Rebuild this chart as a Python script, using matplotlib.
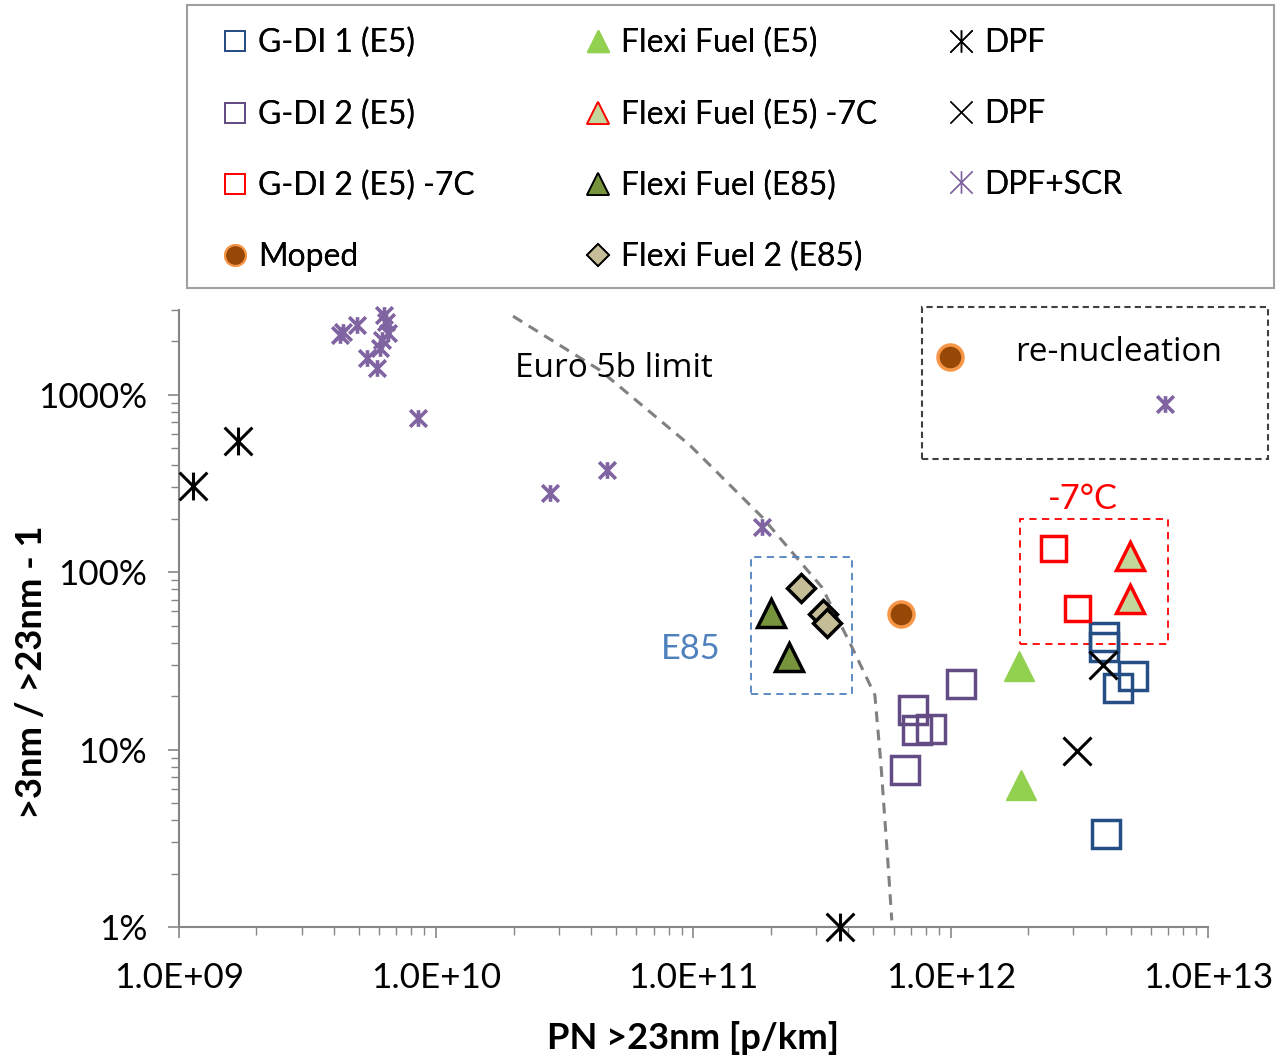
import matplotlib
matplotlib.use('Agg')
import matplotlib.pyplot as plt
from matplotlib import font_manager
from matplotlib.path import Path
from matplotlib.patches import Rectangle
from matplotlib.lines import Line2D
from matplotlib.ticker import FuncFormatter, NullFormatter

# pick a narrow font (Calibri-like look), fall back to Lato
names = {f.name for f in font_manager.fontManager.ttflist}
if 'Liberation Sans Narrow' in names:
    NARROW, K = 'Liberation Sans Narrow', 1.12
else:
    NARROW, K = 'Lato', 0.9
WIDE = 'Open Sans'
plt.rcParams['font.family'] = NARROW

# ---- data: PN >23nm [p/km] vs (>3nm / >23nm - 1) in %
gdi1_x = [3.94e12, 3.94e12, 5.1e12, 4.46e12, 4.0e12]
gdi1_y = [43, 37.8, 25.9, 22.2, 3.34]
gdi2_x = [1.10e12, 7.13e11, 7.38e11, 8.37e11, 6.64e11]
gdi2_y = [23.4, 16.7, 12.9, 13.0, 7.67]
gdi2c_x = [2.50e12, 3.09e12]
gdi2c_y = [136, 63]
moped_x = [6.4e11]
moped_y = [58]
ff_x = [1.84e12, 1.87e12]
ff_y = [29.5, 6.3]
ffc_x = [4.97e12, 4.97e12]
ffc_y = [123, 71]
ff85_x = [2.0e11, 2.35e11]
ff85_y = [58.7, 33.2]
ff2_x = [2.61e11, 3.18e11, 3.30e11]
ff2_y = [81, 58, 52]
dpf_x = [1.13e9, 1.69e9, 3.7e11]
dpf_y = [305, 547, 1]
dpfx_x = [3.09e12, 3.9e12]
dpfx_y = [9.8, 29.9]
scr_x = [4.23e9, 4.33e9, 4.92e9, 6.27e9, 6.38e9, 6.49e9, 6.15e9, 6.04e9,
         5.38e9, 5.89e9, 8.49e9, 2.77e10, 4.61e10, 1.85e11]
scr_y = [2163, 2250, 2465, 2805, 2560, 2220, 2028, 1828,
         1606, 1410, 738, 279, 375, 179]

limit_x = [1.99e10, 4.33e10, 9.68e10, 1.85e11, 3.16e11, 4.13e11,
           5.07e11, 5.35e11, 5.74e11, 5.9e11]
limit_y = [2768, 1374, 519, 204, 82, 37.8, 20.3, 8.4, 2.0, 1.09]

x_ticks = [1e9, 1e10, 1e11, 1e12, 1e13]
y_ticks = [1, 10, 100, 1000]

# asterisk marker like Excel's "star"
star = Path([(-1, -1), (1, 1), (-1, 1), (1, -1), (0, -1), (0, 1)],
            [Path.MOVETO, Path.LINETO] * 3)

BLUE = '#254E85'
PURP = '#634C84'
RED = '#FF0000'
SCR = '#8064A2'

# (label, x, y, plot style, legend style)
series = [
    ('G-DI 1 (E5)', gdi1_x, gdi1_y,
     dict(marker='s', ms=20, mfc='none', mec=BLUE, mew=2.5),
     dict(marker='s', ms=15, mfc='none', mec=BLUE, mew=1.3)),
    ('G-DI 2 (E5)', gdi2_x, gdi2_y,
     dict(marker='s', ms=20, mfc='none', mec=PURP, mew=2.5),
     dict(marker='s', ms=15, mfc='none', mec=PURP, mew=1.3)),
    ('G-DI 2 (E5) -7C', gdi2c_x, gdi2c_y,
     dict(marker='s', ms=18, mfc='none', mec=RED, mew=2.5),
     dict(marker='s', ms=15, mfc='none', mec=RED, mew=1.3)),
    ('Moped', moped_x, moped_y,
     dict(marker='o', ms=18, mfc='#974706', mec='#F79646', mew=2.5),
     dict(marker='o', ms=15, mfc='#974706', mec='#F79646', mew=1.5)),
    ('Flexi Fuel (E5)', ff_x, ff_y,
     dict(marker='^', ms=22, mfc='#92D050', mec='#92D050', mew=1),
     dict(marker='^', ms=16, mfc='#92D050', mec='#92D050', mew=1)),
    ('Flexi Fuel (E5) -7C', ffc_x, ffc_y,
     dict(marker='^', ms=20, mfc='#C4D79B', mec=RED, mew=2.5),
     dict(marker='^', ms=16, mfc='#C4D79B', mec=RED, mew=1.3)),
    ('Flexi Fuel (E85)', ff85_x, ff85_y,
     dict(marker='^', ms=20, mfc='#77933C', mec='black', mew=2.5),
     dict(marker='^', ms=16, mfc='#77933C', mec='black', mew=1.3)),
    ('Flexi Fuel 2 (E85)', ff2_x, ff2_y,
     dict(marker='D', ms=14, mfc='#C4BD97', mec='black', mew=2.5),
     dict(marker='D', ms=11, mfc='#C4BD97', mec='black', mew=1.3)),
    ('DPF', dpf_x, dpf_y,
     dict(marker=star, ms=20, mfc='none', mec='black', mew=2.2),
     dict(marker=star, ms=16, mfc='none', mec='black', mew=1.1)),
    ('DPF', dpfx_x, dpfx_y,
     dict(marker='x', ms=20, mec='black', mew=2.2),
     dict(marker='x', ms=16, mec='black', mew=1.0)),
    ('DPF+SCR', scr_x, scr_y,
     dict(marker=star, ms=12, mfc='none', mec=SCR, mew=2.6),
     dict(marker=star, ms=16, mfc='none', mec=SCR, mew=1.0)),
]

fig = plt.figure(figsize=(12.81, 10.57), dpi=100)
ax = fig.add_axes([0.1397, 0.1230, 0.8033, 0.5837])
ax.set_xscale('log')
ax.set_yscale('log')
ax.set_xlim(1e9, 1e13)
ax.set_ylim(1, 3000)

# Euro 5b limit
ax.plot(limit_x, limit_y, color='#808080', lw=2.2, ls=(0, (3.5, 2.5)), zorder=2)

handles = []
for label, xs, ys, st, lst in series:
    ax.plot(xs, ys, ls='none', clip_on=False, zorder=4, **st)
    handles.append(Line2D([], [], ls='none', label=label, **lst))

# group boxes
e85 = Rectangle((1.67e11, 20.5), 4.13e11 - 1.67e11, 121.5 - 20.5, fill=False,
                ec='#4F81BD', lw=1.3, ls=(0, (4, 3)), zorder=3)
cold = Rectangle((1.86e12, 39.3), 6.98e12 - 1.86e12, 199 - 39.3, fill=False,
                 ec=RED, lw=1.3, ls=(0, (4, 3)), zorder=3)
ax.add_patch(e85)
ax.add_patch(cold)

ax.text(2.02e10, 1410, 'Euro 5b limit', family=WIDE, fontsize=24,
        ha='left', va='center', zorder=5)
ax.text(9.78e10, 36.8, 'E85', color='#4F81BD', fontsize=27.5 * K,
        ha='center', va='center')
ax.text(3.26e12, 258, '-7°C', color=RED, fontsize=27.5 * K,
        ha='center', va='center')

# axes styling
for s in ['top', 'right']:
    ax.spines[s].set_visible(False)
for s in ['left', 'bottom']:
    ax.spines[s].set_color('#868686')
    ax.spines[s].set_linewidth(1.5)
ax.set_xticks(x_ticks)
ax.set_yticks(y_ticks)
ax.xaxis.set_major_formatter(FuncFormatter(lambda v, p: f'{v:.1E}'))
ax.yaxis.set_major_formatter(FuncFormatter(lambda v, p: f'{v:g}%'))
ax.xaxis.set_minor_formatter(NullFormatter())
ax.yaxis.set_minor_formatter(NullFormatter())
ax.tick_params(which='major', direction='out', length=8, width=1.2,
               color='#868686', labelsize=28 * K)
ax.tick_params(axis='x', which='major', pad=17)
ax.tick_params(axis='y', which='major', pad=15)
ax.tick_params(which='minor', direction='out', length=6, width=1.0,
               color='#868686')

ax.set_xlabel('PN >23nm [p/km]', fontsize=29 * K, fontweight='bold')
ax.set_ylabel('>3nm / >23nm - 1', fontsize=29 * K, fontweight='bold')
ax.xaxis.set_label_coords(0.5, -0.152)
ax.yaxis.set_label_coords(-0.127, 0.413)
ax.xaxis.label.set_va('top')

# legend frame and three legend columns
fig.add_artist(Rectangle((187 / 1281, 1 - 288 / 1057), (1274 - 187) / 1281,
                         (288 - 5) / 1057, transform=fig.transFigure,
                         fill=False, ec='#A0A0A0', lw=1.5))
cols = [handles[0:4], handles[4:8], handles[8:11]]
col_x = [220, 583, 946]
for hs, cx in zip(cols, col_x):
    leg = fig.legend(handles=hs, loc='upper left',
                     bbox_to_anchor=(cx / 1281, 1 - 28 / 1057),
                     frameon=False, fontsize=25.5 * K, handlelength=0.95,
                     handletextpad=0.25, labelspacing=1.28, borderpad=0,
                     borderaxespad=0, numpoints=1)
    fig.add_artist(leg)

# re-nucleation key box
fig.add_artist(Rectangle((922 / 1281, 1 - 459 / 1057), (1268 - 922) / 1281,
                         (459 - 307) / 1057, transform=fig.transFigure,
                         fill=False, ec='#404040', lw=1.5, ls=(0, (3, 2))))
fig.add_artist(Line2D([950 / 1281], [1 - 357 / 1057], transform=fig.transFigure,
                      marker='o', ms=18, mfc='#974706', mec='#F79646', mew=2.5))
fig.add_artist(Line2D([1165 / 1281], [1 - 404 / 1057], transform=fig.transFigure,
                      marker=star, ms=12, mfc='none', mec=SCR, mew=2.6))
fig.text(1015 / 1281, 1 - 352 / 1057, 're-nucleation', family=WIDE,
         fontsize=24, ha='left', va='center')

fig.savefig('out.png', dpi=100)
